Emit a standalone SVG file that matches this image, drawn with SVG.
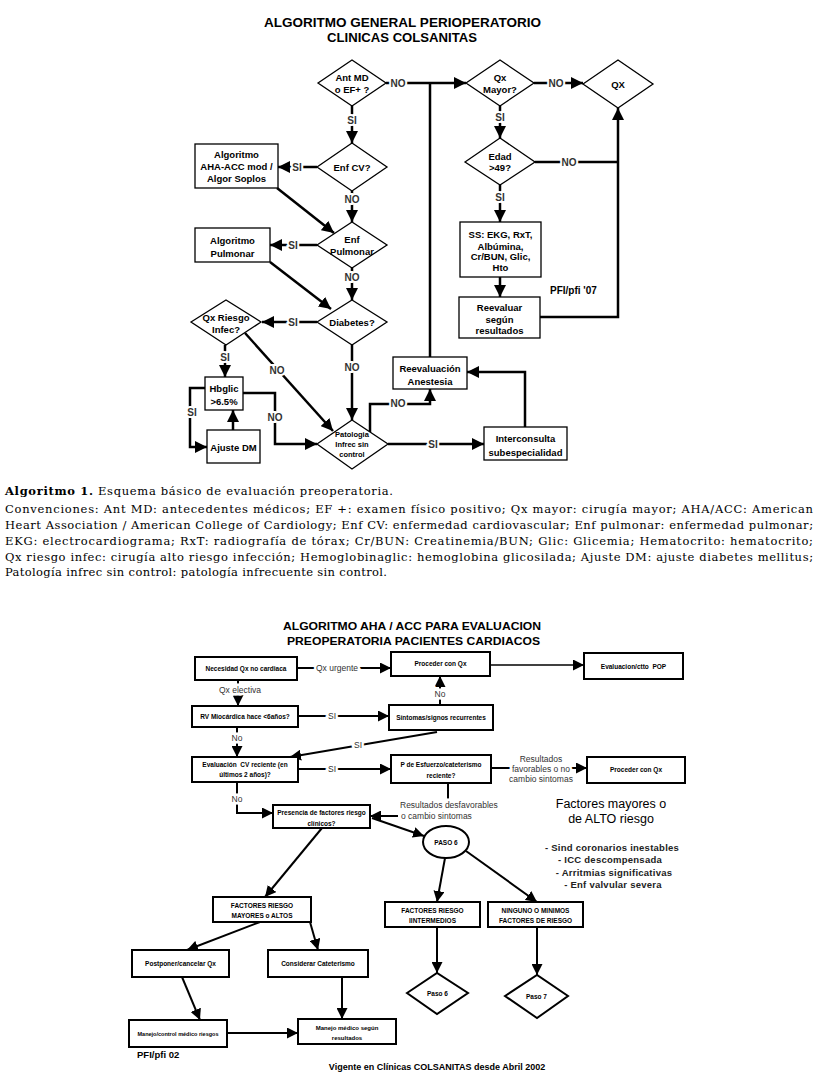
<svg xmlns="http://www.w3.org/2000/svg" width="823" height="1079" viewBox="0 0 823 1079">
<defs>
<marker id="a1" viewBox="0 0 12 12" refX="12" refY="6" markerWidth="12" markerHeight="12" markerUnits="userSpaceOnUse" orient="auto"><path d="M0,0L12,6L0,12z" fill="#000"/></marker>
<marker id="a2" viewBox="0 0 11 11" refX="11" refY="5.5" markerWidth="11" markerHeight="11" markerUnits="userSpaceOnUse" orient="auto"><path d="M0,0L11,5.5L0,11z" fill="#000"/></marker>
</defs>
<style>
text{font-family:"Liberation Sans",Arial,sans-serif;fill:#000}
.t{font-weight:bold;font-size:9.5px;text-anchor:middle}
.tp{font-weight:bold;font-size:7.5px;text-anchor:middle}
.n1{fill:#fff;stroke:#000;stroke-width:1.3}
.c1{fill:none;stroke:#000;stroke-width:2.5}
.c1a{fill:none;stroke:#000;stroke-width:2.5;marker-end:url(#a1)}
.l1{font-weight:bold;font-size:10px;text-anchor:middle;fill:#333;stroke:#fff;stroke-width:4;paint-order:stroke}
.n2{fill:#fff;stroke:#000;stroke-width:2}
.t2{font-weight:bold;font-size:6.5px;text-anchor:middle}
.c2{fill:none;stroke:#000;stroke-width:2;marker-end:url(#a2)}
.c2n{fill:none;stroke:#000;stroke-width:2}
.l2{font-size:8.5px;text-anchor:middle;fill:#333;stroke:#fff;stroke-width:5;paint-order:stroke}
.ttl{font-weight:bold;font-size:12.5px;text-anchor:middle}
.cap{font-family:"DejaVu Serif","Liberation Serif",serif;font-size:11.5px}
.fm{font-size:12.5px;text-anchor:middle}
.fl{font-weight:bold;font-size:9.5px;text-anchor:middle;fill:#222;letter-spacing:0.25px}
</style>
<rect width="823" height="1079" fill="#fff"/>

<!-- ===== Top chart ===== -->
<text class="ttl" x="402.5" y="27" textLength="277" lengthAdjust="spacingAndGlyphs">ALGORITMO GENERAL PERIOPERATORIO</text>
<text class="ttl" x="402" y="42" textLength="150" lengthAdjust="spacingAndGlyphs">CLINICAS COLSANITAS</text>

<g id="connectors-top">
<path class="c1a" d="M386,83 H466"/>
<path class="c1" d="M430,357 V83"/>
<path class="c1a" d="M352,106 V143"/>
<path class="c1a" d="M317,167 H278"/>
<path class="c1a" d="M352,191 V222"/>
<path class="c1a" d="M277,188 L334,233"/>
<path class="c1a" d="M317,245 H270"/>
<path class="c1a" d="M352,268 V300"/>
<path class="c1a" d="M270,262 L331,309"/>
<path class="c1a" d="M317,322 H262"/>
<path class="c1a" d="M225,345 V377"/>
<path class="c1a" d="M205,388 H190 V447 H207"/>
<path class="c1a" d="M233,430 V410"/>
<path class="c1a" d="M243,393 H275 V444 H317"/>
<path class="c1a" d="M245,333 L333,431"/>
<path class="c1a" d="M352,345 V420"/>
<path class="c1a" d="M370,432 V404 H430 V389"/>
<path class="c1a" d="M388,444 H484"/>
<path class="c1a" d="M525,427 V372 H467"/>
<path class="c1a" d="M534,83 H583"/>
<path class="c1a" d="M500,106 V138"/>
<path class="c1" d="M535,162 H618"/>
<path class="c1a" d="M500,185 V222"/>
<path class="c1a" d="M500,277 V297"/>
<path class="c1a" d="M540,317 H618 V108"/>
<text class="l1" x="398" y="86.5">NO</text>
<text class="l1" x="352" y="123.5">SI</text>
<text class="l1" x="297" y="170.5">SI</text>
<text class="l1" x="352" y="202.5">NO</text>
<text class="l1" x="293" y="248.5">SI</text>
<text class="l1" x="352" y="280.5">NO</text>
<text class="l1" x="293" y="325.5">SI</text>
<text class="l1" x="225" y="360.5">SI</text>
<text class="l1" x="192" y="415.5">SI</text>
<text class="l1" x="275" y="420.5">NO</text>
<text class="l1" x="277" y="373.5">NO</text>
<text class="l1" x="352" y="370.5">NO</text>
<text class="l1" x="398" y="407">NO</text>
<text class="l1" x="433" y="447.5">SI</text>
<text class="l1" x="556" y="86.5">NO</text>
<text class="l1" x="500" y="120.5">SI</text>
<text class="l1" x="569" y="165.5">NO</text>
<text class="l1" x="500" y="200.5">SI</text>
</g>

<g id="n-antmd"><polygon class="n1" points="318,83 352,60 386,83 352,106"/><text class="t" x="352" y="81">Ant MD</text><text class="t" x="352" y="93">o EF+ ?</text></g>
<g id="n-enfcv"><polygon class="n1" points="317,167 352,143 387,167 352,191"/><text class="t" x="352" y="171">Enf CV?</text></g>
<g id="n-aha"><rect class="n1" x="195" y="144" width="83" height="44"/><text class="t" x="236.5" y="158">Algoritmo</text><text class="t" x="236.5" y="170">AHA-ACC mod /</text><text class="t" x="236.5" y="182">Algor Soplos</text></g>
<g id="n-enfpul"><polygon class="n1" points="317,245 352,222 387,245 352,268"/><text class="t" x="352" y="243">Enf</text><text class="t" x="352" y="255">Pulmonar</text></g>
<g id="n-algpul"><rect class="n1" x="195" y="228" width="75" height="34"/><text class="t" x="232.5" y="243.5">Algoritmo</text><text class="t" x="232.5" y="256.5">Pulmonar</text></g>
<g id="n-diab"><polygon class="n1" points="317,322 352,300 387,322 352,345"/><text class="t" x="352" y="326">Diabetes?</text></g>
<g id="n-qxr"><polygon class="n1" points="191,322 226,300 261,322 226,345"/><text class="t" x="226" y="321">Qx Riesgo</text><text class="t" x="226" y="333">Infec?</text></g>
<g id="n-hb"><rect class="n1" x="205" y="377" width="38" height="33"/><text class="t" x="224" y="391.5">Hbglic</text><text class="t" x="224" y="404.5">&gt;6.5%</text></g>
<g id="n-aj"><rect class="n1" x="207" y="430" width="53" height="33"/><text class="t" x="233.5" y="450.5">Ajuste DM</text></g>
<g id="n-pat"><polygon class="n1" points="317,444 352,420 388,444 352,469"/><text class="tp" x="352" y="437">Patologia</text><text class="tp" x="352" y="447">Infrec sin</text><text class="tp" x="352" y="457">control</text></g>
<g id="n-reev"><rect class="n1" x="393" y="357" width="74" height="32"/><text class="t" x="430" y="371.5">Reevaluación</text><text class="t" x="430" y="384.5">Anestesia</text></g>
<g id="n-inter"><rect class="n1" x="484" y="427" width="83" height="33"/><text class="t" x="525.5" y="441.5">Interconsulta</text><text class="t" x="525.5" y="455.5">subespecialidad</text></g>
<g id="n-qxm"><polygon class="n1" points="466,83 500,60 534,83 500,106"/><text class="t" x="500" y="81">Qx</text><text class="t" x="500" y="93">Mayor?</text></g>
<g id="n-qx"><polygon class="n1" points="583,84 618,60 653,84 618,108"/><text class="t" x="618" y="88">QX</text></g>
<g id="n-edad"><polygon class="n1" points="465,162 500,138 535,162 500,185"/><text class="t" x="500" y="160">Edad</text><text class="t" x="500" y="171">&gt;49?</text></g>
<g id="n-ss"><rect class="n1" x="460" y="222" width="81" height="55"/><text class="t" x="500.5" y="238">SS: EKG, RxT,</text><text class="t" x="500.5" y="249.5">Albúmina,</text><text class="t" x="500.5" y="260">Cr/BUN, Glic,</text><text class="t" x="500.5" y="271">Hto</text></g>
<g id="n-reeval"><rect class="n1" x="459" y="297" width="81" height="41"/><text class="t" x="499.5" y="310.5">Reevaluar</text><text class="t" x="499.5" y="322.5">según</text><text class="t" x="499.5" y="333.5">resultados</text></g>
<text x="550" y="294" style="font-weight:bold;font-size:10px">PFI/pfi '07</text>

<!-- ===== Caption ===== -->
<g id="caption">
<text class="cap" x="5" y="495" textLength="388" lengthAdjust="spacing"><tspan style="font-weight:bold">Algoritmo 1.</tspan> Esquema básico de evaluación preoperatoria.</text>
<text class="cap" x="5" y="513" textLength="808" lengthAdjust="spacing">Convenciones: Ant MD: antecedentes médicos; EF +: examen físico positivo; Qx mayor: cirugía mayor; AHA/ACC: American</text>
<text class="cap" x="5" y="529" textLength="808" lengthAdjust="spacing">Heart Association / American College of Cardiology; Enf CV: enfermedad cardiovascular; Enf pulmonar: enfermedad pulmonar;</text>
<text class="cap" x="5" y="545" textLength="808" lengthAdjust="spacing">EKG: electrocardiograma; RxT: radiografía de tórax; Cr/BUN: Creatinemia/BUN; Glic: Glicemia; Hematocrito: hematocrito;</text>
<text class="cap" x="5" y="561" textLength="808" lengthAdjust="spacing">Qx riesgo infec: cirugía alto riesgo infección; Hemoglobinaglic: hemoglobina glicosilada; Ajuste DM: ajuste diabetes mellitus;</text>
<text class="cap" x="5" y="576" textLength="382" lengthAdjust="spacing">Patología infrec sin control: patología infrecuente sin control.</text>
</g>

<!-- ===== Bottom chart ===== -->
<text class="ttl" x="412" y="630" style="font-size:11.5px" textLength="258" lengthAdjust="spacingAndGlyphs">ALGORITMO AHA / ACC PARA EVALUACION</text>
<text class="ttl" x="413.5" y="645" style="font-size:11.5px" textLength="253" lengthAdjust="spacingAndGlyphs">PREOPERATORIA PACIENTES CARDIACOS</text>

<g id="connectors-bottom">
<path class="c2" d="M297,668 H391"/>
<path class="c2" d="M490,665 H584" style="stroke-width:1.5"/>
<path class="c2" d="M238,680 V706"/>
<path class="c2" d="M298,716 H389"/>
<path class="c2" d="M440,705 V676"/>
<path class="c2" d="M237,727 V757"/>
<path class="c2" d="M437,732 L290,757"/>
<path class="c2" d="M298,769 H391"/>
<path class="c2" d="M491,768 H587"/>
<path class="c2" d="M237,782 V813 H273"/>
<path class="c2n" d="M448,783 V799"/>
<path class="c2" d="M398,816 H370"/>
<path class="c2" d="M372,818 L424,836"/>
<path class="c2" d="M445,858 L437,902"/>
<path class="c2" d="M466,851 L537,902"/>
<path class="c2" d="M322,828 L265,897"/>
<path class="c2" d="M260,922 L187,950"/>
<path class="c2" d="M310,922 L318,950"/>
<path class="c2" d="M182,977 L200,1020"/>
<path class="c2" d="M342,977 V1019"/>
<path class="c2" d="M227,1033 H298"/>
<path class="c2" d="M437,927 V973"/>
<path class="c2" d="M537,927 V975"/>
<text class="l2" x="337" y="671">Qx urgente</text>
<text class="l2" x="240" y="693">Qx electiva</text>
<text class="l2" x="332" y="719">SI</text>
<text class="l2" x="440" y="697">No</text>
<text class="l2" x="237" y="741">No</text>
<text class="l2" x="358" y="748">SI</text>
<text class="l2" x="332" y="772">SI</text>
<text class="l2" x="541" y="762">Resultados</text>
<text class="l2" x="541" y="772">favorables o no</text>
<text class="l2" x="541" y="782">cambio sintomas</text>
<text class="l2" x="237" y="802">No</text>
<text class="l2" x="400" y="808" style="text-anchor:start">Resultados desfavorables</text>
<text class="l2" x="401" y="819" style="text-anchor:start">o cambio sintomas</text>
</g>

<g id="b-necesidad"><rect class="n2" x="195" y="657" width="102" height="23"/><text class="t2" x="246" y="670.5">Necesidad Qx no cardiaca</text></g>
<g id="b-proceder1"><rect class="n2" x="391" y="652" width="99" height="24"/><text class="t2" x="440.5" y="666">Proceder con Qx</text></g>
<g id="b-evalpop"><rect class="n2" x="584" y="653" width="99" height="26"/><text class="t2" x="633.5" y="669" xml:space="preserve">Evaluacion/ctto  POP</text></g>
<g id="b-rv"><rect class="n2" x="192" y="706" width="106" height="21"/><text class="t2" x="245" y="718.5">RV Miocárdica hace &lt;6años?</text></g>
<g id="b-sintomas"><rect class="n2" x="389" y="705" width="104" height="25"/><text class="t2" x="441" y="719.5">Síntomas/signos recurrentes</text></g>
<g id="b-evalcv"><rect class="n2" x="192" y="757" width="106" height="25"/><text class="t2" x="245" y="766.5" xml:space="preserve">Evaluación  CV reciente (en</text><text class="t2" x="245" y="777">últimos 2 años)?</text></g>
<g id="b-pesf"><rect class="n2" x="391" y="755" width="100" height="28"/><text class="t2" x="441" y="767">P de Esfuerzo/cateterismo</text><text class="t2" x="441" y="778">reciente?</text></g>
<g id="b-proceder2"><rect class="n2" x="587" y="757" width="98" height="26"/><text class="t2" x="636" y="772">Proceder con Qx</text></g>
<g id="b-presencia"><rect class="n2" x="273" y="805" width="97" height="23"/><text class="t2" x="321.5" y="815">Presencia de factores riesgo</text><text class="t2" x="321.5" y="825.5">clínicos?</text></g>
<g id="b-paso6e"><ellipse class="n2" cx="446" cy="842" rx="23" ry="16"/><text class="t2" x="446" y="844.5">PASO 6</text></g>
<g id="b-fmay"><rect class="n2" x="213" y="897" width="98" height="25"/><text class="t2" x="262" y="907.5">FACTORES RIESGO</text><text class="t2" x="262" y="918">MAYORES o ALTOS</text></g>
<g id="b-fint"><rect class="n2" x="385" y="902" width="95" height="25"/><text class="t2" x="432.5" y="913">FACTORES RIESGO</text><text class="t2" x="432.5" y="923">IINTERMEDIOS</text></g>
<g id="b-ning"><rect class="n2" x="488" y="902" width="95" height="25"/><text class="t2" x="535.5" y="913">NINGUNO O MINIMOS</text><text class="t2" x="535.5" y="923">FACTORES DE RIESGO</text></g>
<g id="b-post"><rect class="n2" x="132" y="950" width="97" height="27"/><text class="t2" x="180.5" y="966">Postponer/cancelar Qx</text></g>
<g id="b-cons"><rect class="n2" x="268" y="950" width="100" height="27"/><text class="t2" x="318" y="966">Considerar Cateterismo</text></g>
<g id="b-manctrl"><rect class="n2" x="129" y="1020" width="98" height="27"/><text class="t2" x="178" y="1036" style="font-size:5.5px">Manejo/control médico riesgos</text></g>
<g id="b-manmed"><rect class="n2" x="298" y="1019" width="98" height="25"/><text class="t2" x="347" y="1029.5" style="font-size:6px">Manejo médico según</text><text class="t2" x="347" y="1040" style="font-size:6px">resultados</text></g>
<g id="b-paso6d"><polygon class="n2" points="407,993 437,973 468,993 437,1014"/><text class="t2" x="437.5" y="996">Paso 6</text></g>
<g id="b-paso7d"><polygon class="n2" points="505,996 537,975 568,996 537,1018"/><text class="t2" x="536.5" y="999">Paso 7</text></g>

<g id="factores">
<text class="fm" x="611" y="808">Factores mayores o</text>
<text class="fm" x="611" y="823">de ALTO riesgo</text>
<text class="fl" x="612" y="850.5">- Sind coronarios inestables</text>
<text class="fl" x="610" y="862.5">- ICC descompensada</text>
<text class="fl" x="614" y="875.5">- Arritmias significativas</text>
<text class="fl" x="613" y="887.5">- Enf valvular severa</text>
</g>
<text x="137" y="1058" style="font-weight:bold;font-size:9.5px">PFI/pfi 02</text>
<text x="437" y="1070" style="font-weight:bold;font-size:9px;text-anchor:middle">Vigente en Clínicas COLSANITAS desde Abril 2002</text>
</svg>
